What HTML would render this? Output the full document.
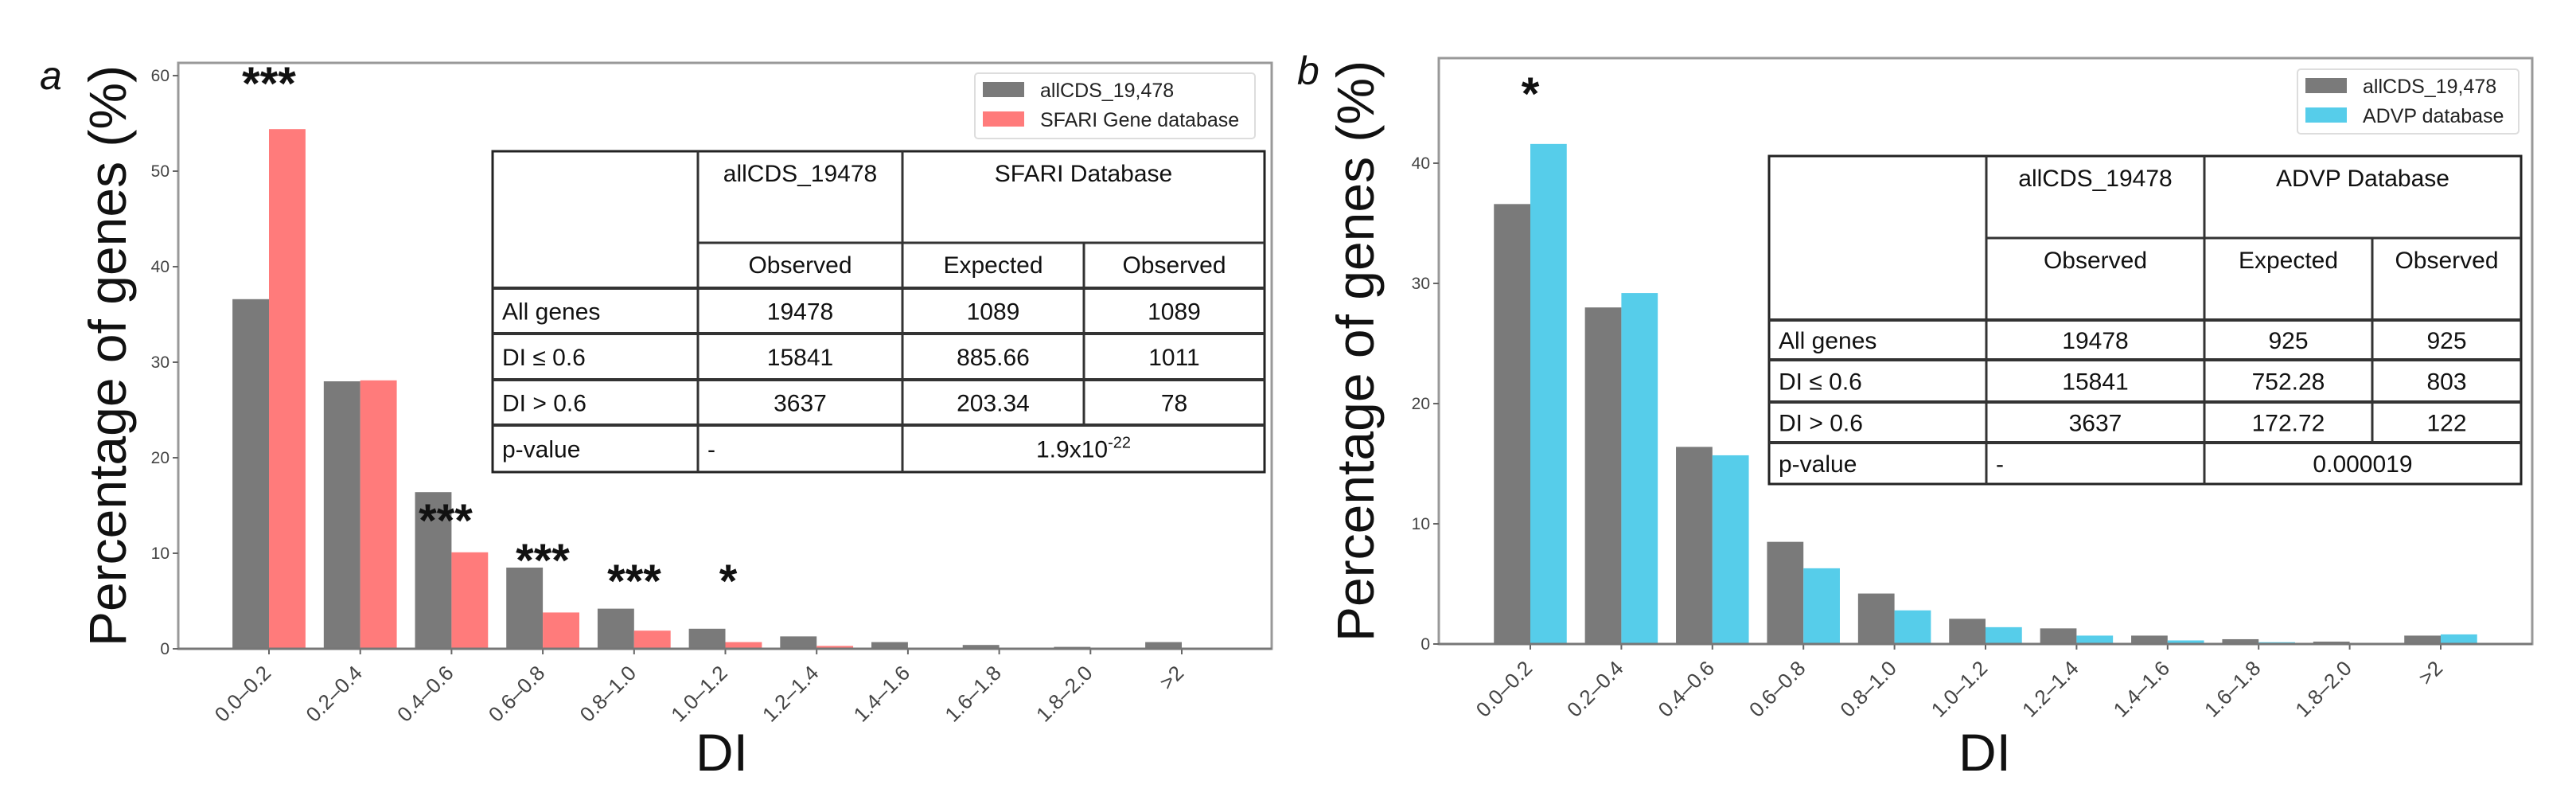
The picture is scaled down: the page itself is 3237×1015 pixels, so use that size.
<!DOCTYPE html>
<html><head><meta charset="utf-8">
<style>
html,body{margin:0;padding:0;background:#fff;}
svg{display:block;}
.tick{font-family:"Liberation Sans",sans-serif;font-size:21px;fill:#444;}
.xtick{font-family:"Liberation Sans",sans-serif;font-size:26px;fill:#444;}
.tbl{font-family:"Liberation Sans Narrow","Liberation Sans",sans-serif;font-size:30px;fill:#111;}
.leg{font-family:"Liberation Sans Narrow","Liberation Sans",sans-serif;font-size:25px;fill:#222;}
.star{font-family:"Liberation Sans",sans-serif;font-size:58px;font-weight:bold;fill:#111;}
</style></head>
<body>
<svg id="chart" width="3237" height="1015" xmlns="http://www.w3.org/2000/svg"></svg>
<script>
const categories = ["0.0–0.2","0.2–0.4","0.4–0.6","0.6–0.8","0.8–1.0","1.0–1.2","1.2–1.4","1.4–1.6","1.6–1.8","1.8–2.0",">2"];
const allCdsA = [36.6,28.0,16.4,8.5,4.2,2.1,1.3,0.7,0.4,0.2,0.7];
const sfari = [54.4,28.1,10.1,3.8,1.9,0.7,0.3,0.05,0.0,0.0,0.1];
const allCdsB = [36.6,28.0,16.4,8.5,4.2,2.1,1.3,0.7,0.4,0.2,0.7];
const advp = [41.6,29.2,15.7,6.3,2.8,1.4,0.7,0.3,0.15,0.1,0.8];
const yTicksA = [0,10,20,30,40,50,60];
const yTicksB = [0,10,20,30,40];
const starsA = ["***","","***","***","***","*","","","","",""];
const starsB = ["*","","","","","","","","","",""];
const tableA = [["","allCDS_19478","SFARI Database",""],["","Observed","Expected","Observed"],["All genes","19478","1089","1089"],["DI ≤ 0.6","15841","885.66","1011"],["DI > 0.6","3637","203.34","78"],["p-value","-","1.9x10","-22"]];
const tableB = [["","allCDS_19478","ADVP Database",""],["","Observed","Expected","Observed"],["All genes","19478","925","925"],["DI ≤ 0.6","15841","752.28","803"],["DI > 0.6","3637","172.72","122"],["p-value","-","0.000019",""]];

const NS="http://www.w3.org/2000/svg";
const svg=document.getElementById('chart');
function mk(tag,attrs,parent,text){const e=document.createElementNS(NS,tag);for(const k in attrs)e.setAttribute(k,attrs[k]);if(text!==undefined)e.textContent=text;(parent||svg).appendChild(e);return e;}

function panel(cfg){
  const g=mk('g',{});
  
  
  const x=i=>cfg.x0+i*cfg.step;
  const y=v=>cfg.yZero-(v)*cfg.pxPerUnit;
  const bw=cfg.step*0.4;
  const fr=mk('rect',{x:cfg.left,y:cfg.top,width:cfg.right-cfg.left,height:cfg.yZero-cfg.top,fill:'none',stroke:'#999','stroke-width':3},g);
  
  
  cfg.yTicks.forEach(t=>{
    mk('line',{x1:cfg.left-7,x2:cfg.left,y1:y(t),y2:y(t),stroke:'#666','stroke-width':2},g);
    const tl=mk('text',{x:cfg.left-11,y:y(t)+7,'text-anchor':'end',class:'tick'},g,String(t));
    
    
  });
  categories.forEach((c,i)=>{
    const v1=cfg.s1[i],v2=cfg.s2[i];
    const b1=mk('rect',{x:x(i)-bw,y:y(v1),width:bw,height:cfg.yZero-y(v1),fill:'#7a7a7a'},g);
    
    
    const b2=mk('rect',{x:x(i),y:y(v2),width:bw,height:cfg.yZero-y(v2),fill:cfg.color},g);
    
    
    mk('line',{x1:x(i),x2:x(i),y1:cfg.yZero,y2:cfg.yZero+7,stroke:'#666','stroke-width':2},g);
    const tl=mk('text',{x:x(i)+4,y:cfg.yZero+32,'text-anchor':'end',class:'xtick',transform:`rotate(-45 ${x(i)+4} ${cfg.yZero+32})`},g,c);
    
    
    if(cfg.stars[i]){
      const sy=cfg.starY[i];
      const st=mk('text',{x:cfg.starX?cfg.starX[i]:x(i),y:sy+28,'text-anchor':'middle',class:'star'},g,cfg.stars[i]);
      
      
    }
  });
  mk('line',{x1:cfg.left,x2:cfg.right,y1:cfg.yZero,y2:cfg.yZero,stroke:'#777','stroke-width':3},g);
  const yl=mk('text',{x:cfg.ylabX,y:(cfg.top+cfg.yZero)/2,'text-anchor':'middle','font-family':'Liberation Sans, sans-serif','font-size':'66',fill:'#111',transform:`rotate(-90 ${cfg.ylabX} ${(cfg.top+cfg.yZero)/2})`},g,'Percentage of genes (%)');
  
  
  const xl=mk('text',{x:cfg.xlabX,y:968,'text-anchor':'middle','font-family':'Liberation Sans Narrow, Liberation Sans, sans-serif','font-size':'66',fill:'#111'},g,'DI');
  
  
  const pl=mk('text',{x:cfg.plX,y:cfg.plY,'font-family':'Liberation Sans, sans-serif','font-size':'50','font-style':'italic',fill:'#111'},g,cfg.panelLabel);
  
  
  const L=cfg.leg;
  const lg=mk('g',{},g);
  
  
  mk('rect',{x:L.x,y:L.y,width:L.w,height:L.h,fill:'#fff',stroke:'#ddd','stroke-width':2,rx:4},lg);
  mk('rect',{x:L.x+10,y:L.y+11,width:52,height:19,fill:'#7a7a7a'},lg);
  mk('rect',{x:L.x+10,y:L.y+48,width:52,height:19,fill:cfg.color},lg);
  const e1=mk('text',{x:L.x+82,y:L.y+30,class:'leg'},lg,'allCDS_19,478');
  
  
  const e2=mk('text',{x:L.x+82,y:L.y+67,class:'leg'},lg,cfg.legName);
  
  
  const T=cfg.tbl, tg=mk('g',{},g);
  
  
  mk('rect',{x:T.xs[0],y:T.ys[0],width:T.xs[4]-T.xs[0],height:T.ys[6]-T.ys[0],fill:'#fff',stroke:'#222','stroke-width':3},tg);
  for(let r=1;r<6;r++){const x1=r===1?T.xs[1]:T.xs[0];mk('line',{x1:x1,x2:T.xs[4],y1:T.ys[r],y2:T.ys[r],stroke:'#333','stroke-width':r===1?3:4},tg);}
  mk('line',{x1:T.xs[1],x2:T.xs[1],y1:T.ys[0],y2:T.ys[6],stroke:'#333','stroke-width':3},tg);
  mk('line',{x1:T.xs[2],x2:T.xs[2],y1:T.ys[0],y2:T.ys[6],stroke:'#333','stroke-width':3},tg);
  mk('line',{x1:T.xs[3],x2:T.xs[3],y1:T.ys[1],y2:T.ys[5],stroke:'#333','stroke-width':3},tg);
  const d=cfg.tdata;
  const cx=(a,b)=>(T.xs[a]+T.xs[b])/2;
  mk('text',{x:cx(1,2),y:T.ys[0]+38,'text-anchor':'middle',class:'tbl'},tg,d[0][1]);
  mk('text',{x:cx(2,4),y:T.ys[0]+38,'text-anchor':'middle',class:'tbl'},tg,d[0][2]);
  for(let c=1;c<4;c++) mk('text',{x:cx(c,c+1),y:T.ys[1]+38,'text-anchor':'middle',class:'tbl'},tg,d[1][c]);
  for(let r=2;r<5;r++){
    const ry=(T.ys[r]+T.ys[r+1])/2+11;
    mk('text',{x:T.xs[0]+12,y:ry,class:'tbl'},tg,d[r][0]);
    for(let c=1;c<4;c++) mk('text',{x:cx(c,c+1),y:ry,'text-anchor':'middle',class:'tbl'},tg,d[r][c]);
  }
  const py=(T.ys[5]+T.ys[6])/2+11;
  mk('text',{x:T.xs[0]+12,y:py,class:'tbl'},tg,d[5][0]);
  mk('text',{x:T.xs[1]+12,y:py,class:'tbl'},tg,d[5][1]);
  const pv=mk('text',{x:cx(2,4),y:py,'text-anchor':'middle',class:'tbl'},tg,d[5][2]);
  if(d[5][3]){mk('tspan',{dy:-12,'font-size':'20'},pv,d[5][3]);}
}

panel({name:'panel-a',left:224,right:1598,top:79,yZero:815,pxPerUnit:12.0,x0:338,step:114.7,
  s1:allCdsA,s2:sfari,color:'#ff7b7b',yTicks:yTicksA,stars:starsA,
  starY:[97,551,646,696,722,722,0,0,0,0,0],
  starX:[338,567,560,682,797,915,0,0,0,0,0],
  ylabX:158,xlabX:907,plX:50,plY:112,panelLabel:'a',
  leg:{x:1225,y:92,w:352,h:82},legName:'SFARI Gene database',
  tbl:{xs:[619,877,1134,1362,1589],ys:[190,305,362,419,477,534,593]},tdata:tableA});

panel({name:'panel-b',left:1808,right:3182,top:73,yZero:809,pxPerUnit:15.1,x0:1923,step:114.4,
  s1:allCdsB,s2:advp,color:'#56cdea',yTicks:yTicksB,stars:starsB,
  starY:[110,0,0,0,0,0,0,0,0,0,0],starX:null,
  ylabX:1726,xlabX:2494,plX:1630,plY:106,panelLabel:'b',
  leg:{x:2887,y:87,w:278,h:81},legName:'ADVP database',
  tbl:{xs:[2223,2496,2770,2981,3168],ys:[196,299,402,452,505,556,608]},tdata:tableB});
</script>
</body></html>
